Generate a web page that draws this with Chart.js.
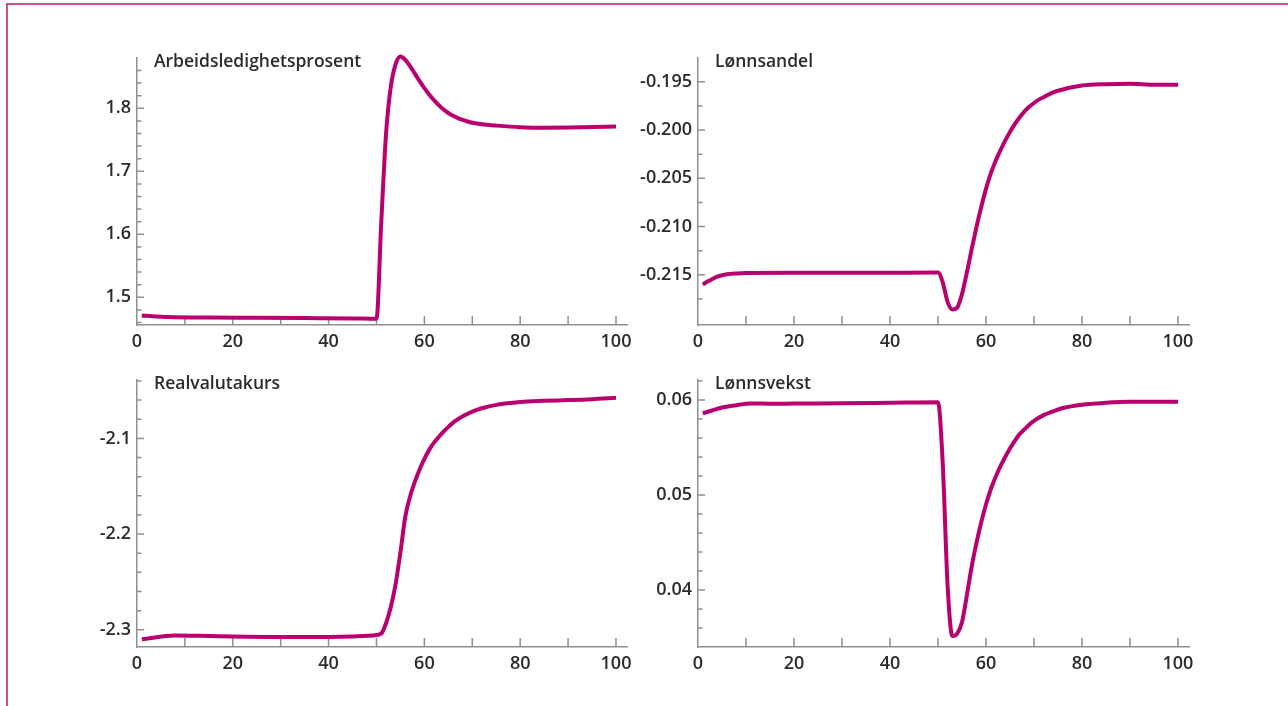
<!DOCTYPE html>
<html>
<head>
<meta charset="utf-8">
<script src="https://cdn.jsdelivr.net/npm/chart.js@4"></script>
<style>
  html, body { margin: 0; padding: 0; background: #fff; }
  body { width: 1288px; height: 706px; position: relative; overflow: hidden; }
  #frame { position: absolute; left: 6px; top: 3px; width: 1400px; height: 800px;
           border-top: 2px solid #c9528a; border-left: 2px solid #c9528a; }
  canvas { position: absolute; }
</style>
</head>
<body>
<div id="frame"></div>
<canvas id="c1"></canvas>
<canvas id="c2"></canvas>
<canvas id="c3"></canvas>
<canvas id="c4"></canvas>
<script>
// x axis (periods)
var xLabels = [0, 20, 40, 60, 80, 100];
var xMarks = [10, 20, 30, 40, 50, 60, 70, 80, 90, 100];

// Arbeidsledighetsprosent
var arbX = [1, 4, 8, 15, 25, 35, 45, 50, 51, 52, 53, 54, 55, 56, 57, 58, 59, 60, 61, 62, 63, 64, 65, 66, 67, 68, 69, 70, 72, 75, 80, 85, 90, 95, 100];
var arbY = [1.4712, 1.4695, 1.4683, 1.4680, 1.4675, 1.4670, 1.4665, 1.4660, 1.62, 1.76, 1.835, 1.870, 1.882, 1.877, 1.867, 1.855, 1.843, 1.832, 1.822, 1.813, 1.805, 1.798, 1.7925, 1.788, 1.7845, 1.7815, 1.779, 1.777, 1.7745, 1.7725, 1.7700, 1.7692, 1.7695, 1.7703, 1.771];
var arbMajor = [1.5, 1.6, 1.7, 1.8];
var arbMinor = [1.46, 1.48, 1.52, 1.54, 1.56, 1.58, 1.62, 1.64, 1.66, 1.68, 1.72, 1.74, 1.76, 1.78, 1.82, 1.84, 1.86];

// Lønnsandel
var lonX = [1, 2, 3, 4, 5, 6, 8, 10, 20, 30, 40, 50, 51, 52, 53, 54, 55, 56, 57, 58, 59, 60, 61, 62, 63, 64, 65, 66, 67, 68, 69, 70, 71, 72, 74, 76, 80, 85, 90, 95, 100];
var lonY = [-0.2160, -0.21570, -0.21543, -0.21520, -0.21505, -0.21495, -0.21486, -0.21481, -0.21480, -0.21479, -0.21478, -0.21477, -0.2158, -0.2178, -0.2186, -0.2184, -0.2170, -0.2148, -0.2124, -0.2101, -0.2080, -0.2061, -0.2045, -0.2032, -0.2021, -0.2011, -0.2002, -0.1994, -0.1987, -0.1981, -0.1976, -0.1972, -0.19685, -0.1966, -0.1961, -0.1958, -0.1954, -0.19525, -0.1952, -0.1953, -0.1953];
var lonMajor = [-0.215, -0.210, -0.205, -0.200, -0.195];
var lonMinor = [-0.2175, -0.2125, -0.2075, -0.2025, -0.1975];

// Realvalutakurs
var realX = [1, 8, 15, 20, 30, 40, 45, 50, 51, 52, 53, 54, 55, 56, 57, 58, 59, 60, 61, 62, 63, 64, 65, 66, 67, 68, 70, 72, 75, 80, 85, 90, 95, 100];
var realY = [-2.3098, -2.306, -2.3065, -2.307, -2.3075, -2.3075, -2.307, -2.3055, -2.3040, -2.2930, -2.2760, -2.2520, -2.2190, -2.1820, -2.1610, -2.1455, -2.1325, -2.1215, -2.1120, -2.1045, -2.0985, -2.0930, -2.0880, -2.0835, -2.0800, -2.0770, -2.0720, -2.0685, -2.0650, -2.0620, -2.0608, -2.0600, -2.0590, -2.0575];
var realMajor = [-2.3, -2.2, -2.1];
var realMinor = [-2.28, -2.26, -2.24, -2.22, -2.18, -2.16, -2.14, -2.12, -2.08, -2.06, -2.04];

// Lønnsvekst
var vekX = [1, 3, 5, 8, 10, 11, 15, 20, 30, 40, 50, 51, 52, 53, 54, 55, 56, 57, 58, 59, 60, 61, 62, 63, 64, 65, 66, 67, 68, 69, 70, 72, 74, 76, 80, 85, 90, 95, 100];
var vekY = [0.0586, 0.0589, 0.0592, 0.05945, 0.0596, 0.05963, 0.0596, 0.05962, 0.05965, 0.0597, 0.05975, 0.0532, 0.0405, 0.03515, 0.0354, 0.0366, 0.0394, 0.0424, 0.0449, 0.0471, 0.0490, 0.0506, 0.0519, 0.0530, 0.0540, 0.0549, 0.0557, 0.0564, 0.0569, 0.0574, 0.0578, 0.0584, 0.0588, 0.05915, 0.0595, 0.0597, 0.0598, 0.0598, 0.0598];
var vekMajor = [0.04, 0.05, 0.06];
var vekMinor = [0.036, 0.038, 0.042, 0.044, 0.046, 0.048, 0.052, 0.054, 0.056, 0.058, 0.062];

var lineColor = '#b8006e';
var axisColor = '#8f8f8f';
var textColor = '#2b2b2b';
var fontFamily = "'Open Sans', sans-serif";

// minor/major tick marks drawn inwards, plus the panel title
Chart.register({
    id: 'panel',
    beforeDatasetsDraw: function (chart, args, opts) {
        var ctx = chart.ctx, a = chart.chartArea;
        var x = chart.scales.x, y = chart.scales.y;
        ctx.save();
        ctx.strokeStyle = axisColor;
        ctx.lineWidth = 1.5;
        ctx.beginPath();
        xMarks.forEach(function (v) {
            var px = x.getPixelForValue(v);
            ctx.moveTo(px, a.bottom);
            ctx.lineTo(px, a.bottom - 9);
        });
        opts.major.forEach(function (v) {
            var py = y.getPixelForValue(v);
            ctx.moveTo(a.left, py);
            ctx.lineTo(a.left + 7, py);
        });
        opts.minor.forEach(function (v) {
            var py = y.getPixelForValue(v);
            ctx.moveTo(a.left, py);
            ctx.lineTo(a.left + 4.5, py);
        });
        ctx.stroke();
        ctx.fillStyle = textColor;
        ctx.font = '600 17.5px ' + fontFamily;
        ctx.textBaseline = 'alphabetic';
        ctx.textAlign = 'left';
        ctx.fillText(opts.title, a.left + 17, a.top + 9);
        ctx.restore();
    }
});

function makePanel(id, box, title, xs, ys, yMin, yMax, major, minor, decimals) {
    var cv = document.getElementById(id);
    cv.width = box.r - box.l + 100;
    cv.height = box.b - box.t + 55;
    cv.style.left = (box.l - 80) + 'px';
    cv.style.top = (box.t - 20) + 'px';
    var pts = xs.map(function (v, i) { return { x: v, y: ys[i] }; });
    var tickFont = { family: fontFamily, size: 18, weight: '600' };
    return new Chart(cv.getContext('2d'), {
        type: 'line',
        data: {
            datasets: [{
                data: pts,
                borderColor: lineColor,
                borderWidth: 4,
                pointRadius: 0,
                fill: false,
                cubicInterpolationMode: 'monotone',
                clip: false
            }]
        },
        options: {
            responsive: false,
            animation: false,
            layout: { padding: { top: 20, right: 20, left: 0, bottom: 0 } },
            plugins: {
                legend: { display: false },
                tooltip: { enabled: false },
                panel: { title: title, major: major, minor: minor }
            },
            scales: {
                x: {
                    type: 'linear',
                    min: 0,
                    max: 102.3,
                    afterBuildTicks: function (s) { s.ticks = xLabels.map(function (v) { return { value: v }; }); },
                    afterFit: function (s) { s.height = 35; },
                    ticks: { font: tickFont, color: textColor, padding: 6, maxRotation: 0, autoSkip: false },
                    grid: { display: false, drawTicks: false },
                    border: { display: true, color: axisColor, width: 1.5 }
                },
                y: {
                    type: 'linear',
                    min: yMin,
                    max: yMax,
                    afterBuildTicks: function (s) { s.ticks = major.map(function (v) { return { value: v }; }); },
                    afterFit: function (s) { s.width = 80; },
                    ticks: {
                        font: tickFont, color: textColor, padding: 6, autoSkip: false,
                        callback: function (v) { return v.toFixed(decimals); }
                    },
                    grid: { display: false, drawTicks: false },
                    border: { display: true, color: axisColor, width: 1.5 }
                }
            }
        }
    });
}

makePanel('c1', { l: 137, t: 58, r: 627, b: 325 }, 'Arbeidsledighetsprosent', arbX, arbY, 1.456, 1.8798, arbMajor, arbMinor, 1);
makePanel('c2', { l: 698, t: 58, r: 1189, b: 325 }, 'Lønnsandel', lonX, lonY, -0.2202, -0.19254, lonMajor, lonMinor, 3);
makePanel('c3', { l: 137, t: 380, r: 627, b: 647 }, 'Realvalutakurs', realX, realY, -2.318, -2.039, realMajor, realMinor, 1);
makePanel('c4', { l: 698, t: 380, r: 1189, b: 647 }, 'Lønnsvekst', vekX, vekY, 0.034, 0.0621, vekMajor, vekMinor, 2);
</script>
</body>
</html>
